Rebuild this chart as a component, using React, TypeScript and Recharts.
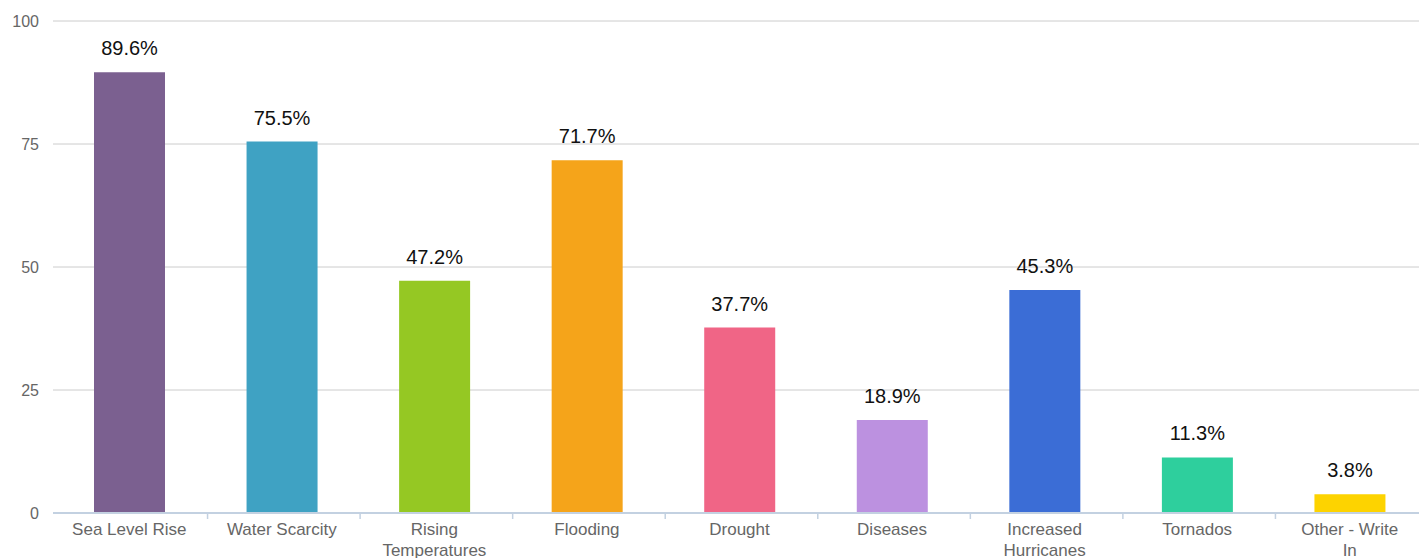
import { Bar, BarChart, CartesianGrid, Cell, LabelList, XAxis, YAxis } from "recharts";

const categories = [
  "Sea Level Rise",
  "Water Scarcity",
  "Rising Temperatures",
  "Flooding",
  "Drought",
  "Diseases",
  "Increased Hurricanes",
  "Tornados",
  "Other - Write In",
];
const tickLines = [
  ["Sea Level Rise"],
  ["Water Scarcity"],
  ["Rising", "Temperatures"],
  ["Flooding"],
  ["Drought"],
  ["Diseases"],
  ["Increased", "Hurricanes"],
  ["Tornados"],
  ["Other - Write", "In"],
];
const values = [89.6, 75.5, 47.2, 71.7, 37.7, 18.9, 45.3, 11.3, 3.8];
const colors = [
  "#7b6090",
  "#3fa2c3",
  "#95c823",
  "#f5a41a",
  "#f06586",
  "#bc91e0",
  "#3b6dd6",
  "#2ecf9d",
  "#fdd300",
];
const yTicks = [0, 25, 50, 75, 100];

const data = categories.map((name, i) => ({ name, value: values[i] }));

const font = "'Liberation Sans', Arial, Helvetica, sans-serif";
const axisBlue = "#c3d1e1";

function CategoryTick(props: any) {
  const { x, y, index, visibleTicksCount } = props;
  const band = 1373 / (visibleTicksCount || 9);
  const lines = tickLines[index] ?? [String(props.payload?.value ?? "")];
  return (
    <g>
      {index > 0 && (
        <line x1={x - band / 2 + 2} x2={x - band / 2 + 2} y1={y} y2={y + 6} stroke={axisBlue} strokeWidth={1.5} />
      )}
      <text x={x} y={y + 22} textAnchor="middle" fill="#666" fontSize={17} fontFamily={font}>
        {lines.map((l: string, i: number) => (
          <tspan key={i} x={x} dy={i === 0 ? 0 : 21}>
            {l}
          </tspan>
        ))}
      </text>
    </g>
  );
}

export default function App() {
  return (
    <div
      style={{
        position: "fixed",
        left: 0,
        top: 0,
        width: 1419,
        height: 558,
        overflow: "hidden",
        background: "#fff",
      }}
    >
      <BarChart
        width={1430}
        height={558}
        data={data}
        margin={{ top: 21, right: 4, left: 0, bottom: 0 }}
        barSize={71}
      >
        <CartesianGrid vertical={false} stroke="#cccccc" />
        <XAxis
          dataKey="name"
          height={45}
          interval={0}
          tickLine={false}
          axisLine={{ stroke: axisBlue, strokeWidth: 2 }}
          tick={<CategoryTick />}
          tickSize={0}
          tickMargin={0}
        />
        <YAxis
          width={53}
          domain={[0, 100]}
          ticks={yTicks}
          axisLine={false}
          tickLine={false}
          tickMargin={8}
          tick={{ fill: "#666", fontSize: 16, fontFamily: font }}
        />
        <Bar dataKey="value" isAnimationActive={false}>
          {data.map((_, i) => (
            <Cell key={i} fill={colors[i]} />
          ))}
          <LabelList
            dataKey="value"
            position="top"
            offset={17}
            formatter={(v: any) => `${v}%`}
            style={{ fill: "#111", fontSize: 20, fontFamily: font }}
          />
        </Bar>
      </BarChart>
    </div>
  );
}
